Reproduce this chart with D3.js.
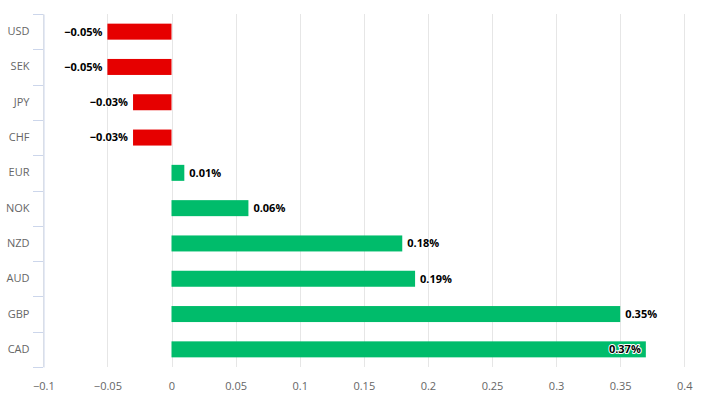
<!DOCTYPE html>
<html><head><meta charset="utf-8">
<script src="https://cdn.jsdelivr.net/npm/d3@7"></script>
<style>body{margin:0;background:#fff}svg{display:block;font-family:"Open Sans",sans-serif}</style>
</head><body><svg id="c" width="707" height="408"></svg>
<script>
const categories = ["USD","SEK","JPY","CHF","EUR","NOK","NZD","AUD","GBP","CAD"];
const values = [-0.05,-0.05,-0.03,-0.03,0.01,0.06,0.18,0.19,0.35,0.37];
const xTicks = [-0.1,-0.05,0,0.05,0.1,0.15,0.2,0.25,0.3,0.35,0.4];

const svg = d3.select("#c");
const L=43, R=684, T=14, B=367;
const x = d3.scaleLinear().domain([-0.1,0.4]).range([L+0.3,R+0.3]);
const y = d3.scaleBand().domain(categories).range([T,B]);
const fmt = v => (v<0?"\u2212":"") + Math.abs(v).toFixed(2) + "%";
const tickFmt = v => v===0?"0":(v<0?"\u2212":"")+String(Math.abs(+v.toFixed(2)));

// gridlines
svg.append("g").selectAll("line").data(xTicks).join("line")
  .attr("x1",d=>Math.round(x(d))+0.5).attr("x2",d=>Math.round(x(d))+0.5)
  .attr("y1",T).attr("y2",B).attr("stroke","#e6e6e6");

// x axis labels
const xa = svg.append("g").attr("transform",`translate(0,${B})`)
  .call(d3.axisBottom(x).tickValues(xTicks).tickFormat(tickFmt).tickSize(0).tickPadding(15));
xa.select(".domain").remove();
xa.selectAll("text").attr("fill","#666").attr("font-size","11px").attr("font-family","Open Sans, sans-serif");

// y axis
const ya = svg.append("g").attr("transform",`translate(${L+0.5},0)`)
  .call(d3.axisLeft(y).tickSize(0).tickPadding(14));
ya.select(".domain").attr("stroke","#ccd6eb");
ya.selectAll("text").attr("fill","#666").attr("font-size","11px").attr("font-family","Open Sans, sans-serif");
// category boundary ticks
const bounds = categories.map(c=>y(c)).concat([B]);
svg.append("g").selectAll("line").data(bounds).join("line")
  .attr("x1",L-10).attr("x2",L).attr("y1",d=>Math.round(d)+0.5).attr("y2",d=>Math.round(d)+0.5)
  .attr("stroke","#ccd6eb");

// bars
const bh = 16;
svg.append("g").selectAll("rect").data(values).join("rect")
  .attr("x",d=>x(Math.min(0,d))).attr("width",d=>Math.abs(x(d)-x(0)))
  .attr("y",(d,i)=>y(categories[i])+y.bandwidth()/2-bh/2).attr("height",bh)
  .attr("fill",d=>d<0?"#e60000":"#00bc6b");

// labels
svg.append("g").selectAll("text").data(values).join("text")
  .attr("x",d=>{ if(d<0) return x(d)-5; const xe=x(d)+5; return xe+35>R? x(d)-5 : xe;})
  .attr("text-anchor",d=>{ if(d<0) return "end"; return x(d)+40>R?"end":"start";})
  .attr("y",(d,i)=>y(categories[i])+y.bandwidth()/2)
  .attr("dy","0.35em")
  .attr("font-size","11px").attr("font-weight","bold").attr("fill","#000")
  .attr("stroke","#fff").attr("stroke-width",2).attr("paint-order","stroke").attr("stroke-linejoin","round")
  .text(fmt);
</script></body></html>
